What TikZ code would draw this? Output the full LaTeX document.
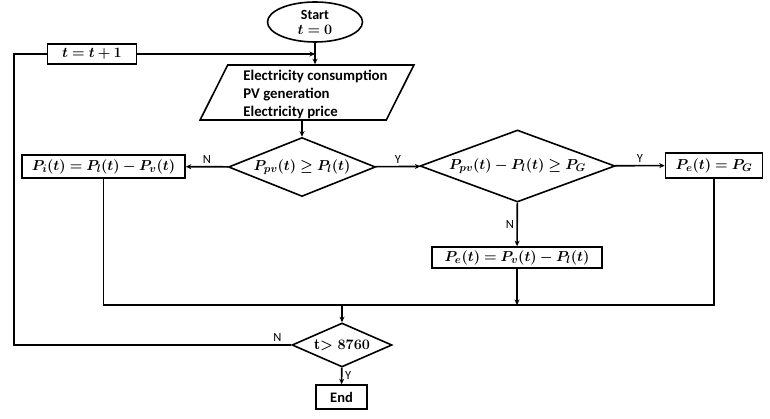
\documentclass[tikz,border=0pt]{standalone}
\usepackage{amsmath,bm}
\usepackage{fontspec}
\newfontfamily\calib{Carlito}
\usetikzlibrary{shapes.geometric,arrows.meta}
\begin{document}
\begin{tikzpicture}[x=1pt,y=-1pt, line width=1.6pt,
  >={Stealth[length=5.5pt,width=5pt]},
  box/.style={draw, rectangle, inner sep=0pt, font=\fontsize{15.5}{17}\selectfont},
  dec/.style={draw, diamond, inner sep=0pt},
  dtext/.style={inner sep=0pt, font=\fontsize{15.5}{17}\selectfont},
  lbl/.style={font=\calib\fontsize{12.5}{14}\selectfont, inner sep=2.5pt}]
\useasboundingbox (0,0) rectangle (770,419);
\node[draw, ellipse, minimum width=95, minimum height=40, inner sep=0pt, align=center,
  font=\fontsize{14}{15}\selectfont] (start) at (315,22) {{\calib\bfseries Start}\\[0pt] $\bm{t=0}$};
\node[box, minimum width=89, minimum height=20] (inc) at (92,54) {$\bm{t=t+1}$};
\node[draw, trapezium, trapezium left angle=52.6, trapezium right angle=127.4,
  trapezium stretches=true, minimum width=214, minimum height=55, inner sep=0pt] (para) at (307,92.5) {\phantom{XXXX}};
\node[align=left, inner sep=0pt, font=\calib\bfseries\fontsize{14.8}{18}\selectfont] at (315.5,94)
  {Electricity consumption\\PV generation\\Electricity price};
\node[dec, minimum width=147, minimum height=59] (d1) at (302,167) {};
\node[dtext] at (d1) {$\bm{P_{pv}(t)\geq P_{l}(t)}$};
\node[box, minimum width=163, minimum height=23] (pi) at (103.5,166.5) {$\bm{P_{i}(t)=P_{l}(t)-P_{v}(t)}$};
\node[dec, minimum width=195, minimum height=72] (d2) at (517.5,166) {};
\node[dtext] at (d2) {$\bm{P_{pv}(t)-P_{l}(t)\geq P_{G}}$};
\node[box, minimum width=97, minimum height=25] (pe1) at (714,165.5) {$\bm{P_{e}(t)=P_{G}}$};
\node[box, minimum width=170, minimum height=21] (pe2) at (517,257.5) {$\bm{P_{e}(t)=P_{v}(t)-P_{l}(t)}$};
\coordinate (m) at (342,305);
\coordinate (lft) at (14,0);
\node[dec, minimum width=100, minimum height=44] (d3) at (342,345) {};
\node[dtext] at (d3) {$\bm{\mathrm{t}{>}\ 8760}$};
\node[box, minimum width=51, minimum height=24, font=\calib\bfseries\fontsize{14.5}{16}\selectfont] (end) at (341.5,397) {End};

\draw[->] (start) -- (para.north -| start);
\draw[->] (inc) -- (inc -| start);
\draw[->] (para.south -| d1) -- (d1);
\draw[->] (d1) -- node[lbl, above]{N} (pi);
\draw[->] (d1) -- node[lbl, above]{Y} (d2);
\draw[->] (d2) -- node[lbl, above]{Y} (pe1);
\draw[->] (d2) -- node[lbl, left]{N} (pe2);
\draw (pi) |- (m) -| (pe1);
\draw[->] (pe2) -- (pe2 |- m);
\draw[->] (m) -- (d3);
\draw (d3) -- node[lbl, above, pos=0.05]{N} (d3 -| lft) |- (inc);
\draw[->] (d3) -- node[lbl, right]{Y} (end);
\end{tikzpicture}
\end{document}
